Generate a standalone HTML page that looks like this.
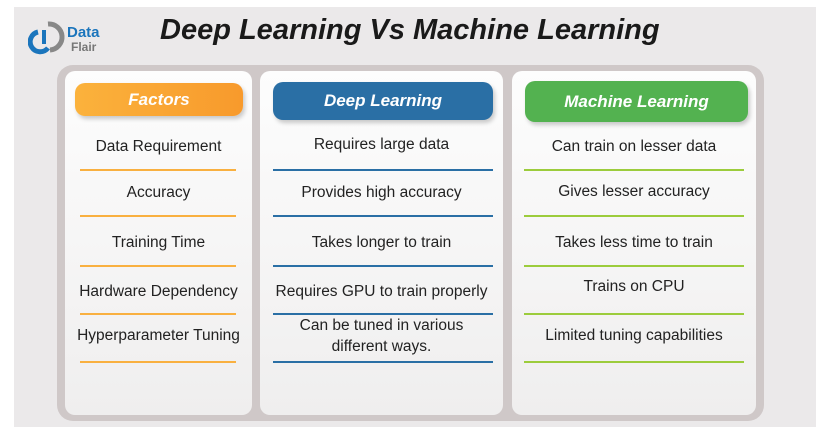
<!DOCTYPE html>
<html><head><style>
body{margin:0;width:829px;height:438px;background:#fff;position:relative;font-family:"Liberation Sans",sans-serif;overflow:hidden}
.bg{position:absolute;left:14px;top:7px;width:802px;height:420px;background:#ebe9ea}
.frame{position:absolute;left:57px;top:65px;width:707px;height:356px;background:#cfc8c8;border-radius:16px}
.card{position:absolute;top:71px;height:344px;background:linear-gradient(#fdfdfd,#efeeee);border-radius:10px}
.hd{position:absolute;color:#fff;font-weight:bold;font-style:italic;font-size:17px;text-align:center;border-radius:10px;box-shadow:2px 3px 4px rgba(0,0,0,.2)}
.t{position:absolute;font-size:15.5px;color:#222;text-align:center;line-height:21px}
.l{position:absolute;height:2px}
h1{position:absolute;left:160px;top:14px;margin:0;font-size:29px;font-style:italic;font-weight:bold;color:#1a1a1a}
</style></head><body>
<div class="bg"></div>
<svg style="position:absolute;left:28px;top:18px" width="80" height="40">
<path d="M10 14 A10 10 0 1 0 20 30" stroke="#1b75bc" stroke-width="5" fill="none"/>
<path d="M20 6 A12 12 0 0 1 22 32" stroke="#888" stroke-width="5" fill="none"/>
<rect x="14" y="12" width="4" height="14" fill="#1b75bc"/>
<text x="39" y="19" font-size="15" font-weight="bold" fill="#1b75bc" font-family="Liberation Sans">Data</text>
<text x="43" y="33" font-size="12" font-weight="bold" fill="#777" font-family="Liberation Sans">Flair</text>
</svg>
<h1>Deep Learning Vs Machine Learning</h1>
<div class="frame"></div>
<div class="card" style="left:65px;width:187px"></div>
<div class="card" style="left:260px;width:243px"></div>
<div class="card" style="left:512px;width:244px"></div>
<div class="hd" style="left:75px;top:83px;width:168px;height:33px;line-height:33px;background:linear-gradient(90deg,#fbb23c,#f89a2c)">Factors</div>
<div class="hd" style="left:273px;top:82px;width:220px;height:38px;line-height:38px;background:#2a6fa5">Deep Learning</div>
<div class="hd" style="left:525px;top:81px;width:223px;height:41px;line-height:41px;background:#53b250">Machine Learning</div>

<div class="t" style="left:65px;width:187px;top:136px">Data Requirement</div>
<div class="t" style="left:65px;width:187px;top:182px">Accuracy</div>
<div class="t" style="left:65px;width:187px;top:232px">Training Time</div>
<div class="t" style="left:65px;width:187px;top:281px">Hardware Dependency</div>
<div class="t" style="left:60px;width:197px;top:325px">Hyperparameter Tuning</div>
<div class="l" style="left:80px;width:156px;top:169px;background:#f9b040"></div>
<div class="l" style="left:80px;width:156px;top:215px;background:#f9b040"></div>
<div class="l" style="left:80px;width:156px;top:265px;background:#f9b040"></div>
<div class="l" style="left:80px;width:156px;top:313px;background:#f9b040"></div>
<div class="l" style="left:80px;width:156px;top:361px;background:#f9b040"></div>

<div class="t" style="left:260px;width:243px;top:134px">Requires large data</div>
<div class="t" style="left:260px;width:243px;top:182px">Provides high accuracy</div>
<div class="t" style="left:260px;width:243px;top:232px">Takes longer to train</div>
<div class="t" style="left:260px;width:243px;top:281px">Requires GPU to train properly</div>
<div class="t" style="left:260px;width:243px;top:315px">Can be tuned in various<br>different ways.</div>
<div class="l" style="left:273px;width:220px;top:169px;background:#2a6fa5"></div>
<div class="l" style="left:273px;width:220px;top:215px;background:#2a6fa5"></div>
<div class="l" style="left:273px;width:220px;top:265px;background:#2a6fa5"></div>
<div class="l" style="left:273px;width:220px;top:313px;background:#2a6fa5"></div>
<div class="l" style="left:273px;width:220px;top:361px;background:#2a6fa5"></div>

<div class="t" style="left:512px;width:244px;top:136px">Can train on lesser data</div>
<div class="t" style="left:512px;width:244px;top:181px">Gives lesser accuracy</div>
<div class="t" style="left:512px;width:244px;top:232px">Takes less time to train</div>
<div class="t" style="left:512px;width:244px;top:276px">Trains on CPU</div>
<div class="t" style="left:512px;width:244px;top:325px">Limited tuning capabilities</div>
<div class="l" style="left:524px;width:220px;top:169px;background:#9ccc3c"></div>
<div class="l" style="left:524px;width:220px;top:215px;background:#9ccc3c"></div>
<div class="l" style="left:524px;width:220px;top:265px;background:#9ccc3c"></div>
<div class="l" style="left:524px;width:220px;top:313px;background:#9ccc3c"></div>
<div class="l" style="left:524px;width:220px;top:361px;background:#9ccc3c"></div>
</body></html>
